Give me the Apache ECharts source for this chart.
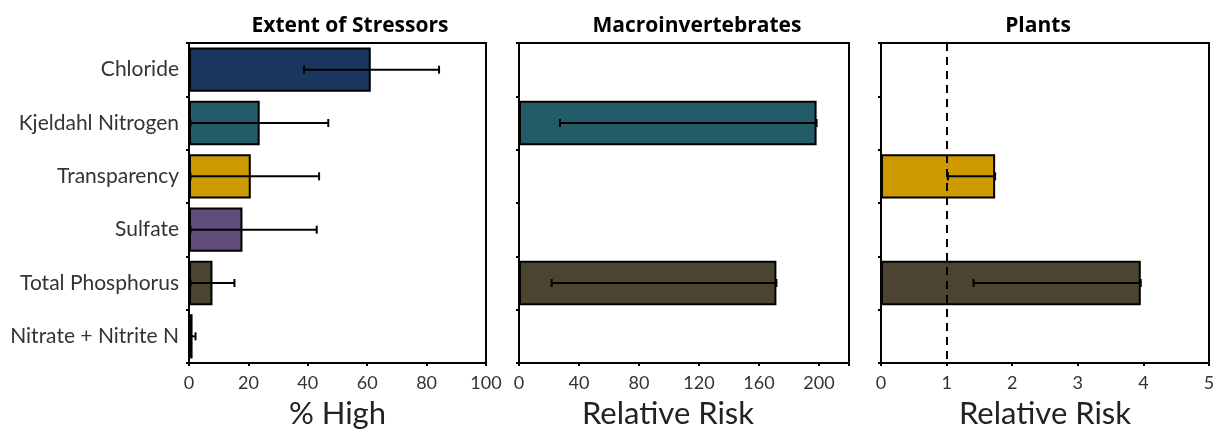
<!DOCTYPE html>
<html>
<head>
<meta charset="utf-8">
<script src="https://cdn.jsdelivr.net/npm/echarts@6/dist/echarts.min.js"></script>
<style>
  html, body { margin: 0; padding: 0; background: #fff; }
  #main { width: 1221px; height: 432px; }
</style>
</head>
<body>
<div id="main"></div>
<script>
// categories, top to bottom
const categories = ['Chloride', 'Kjeldahl Nitrogen', 'Transparency', 'Sulfate', 'Total Phosphorus', 'Nitrate + Nitrite N'];

// extent of stressors (% high) with error bar ends
const extentHigh = [61.2, 23.8, 20.8, 18.0, 7.9, 1.2];
const extentLo = [38.7, 0.5, 0.5, 0.5, 0.5, 0.4];
const extentHi = [84.2, 46.9, 43.8, 43.0, 15.3, 2.2];

// relative risk, macroinvertebrates (null = not shown)
const macroRR = [null, 198.4, null, null, 171.6, null];
const macroLo = [null, 27.3, null, null, 21.8, null];

// relative risk, plants
const plantRR = [null, null, 1.74, null, 3.96, null];
const plantLo = [null, null, 1.02, null, 1.41, null];

const plantRefLine = 1;

const panelTitles = ['Extent of Stressors', 'Macroinvertebrates', 'Plants'];
const axisNames = ['% High', 'Relative Risk', 'Relative Risk'];

// bar fills per category
const barColors = ['#1b365e', '#235b69', '#cc9900', '#604b7b', '#4a4430', '#ffffff'];

const FONT = 'Lato';

const myChart = echarts.init(document.getElementById('main'));

function barData(vals) {
  return vals.map((v, i) => v == null ? '-' : { value: v, itemStyle: { color: barColors[i] } });
}
function errData(lo, hi) {
  const out = [];
  lo.forEach((l, i) => {
    if (l != null && hi[i] != null) out.push([l, hi[i], i]);
  });
  return out;
}

// error bar: horizontal line with caps at both ends
function renderErr(params, api) {
  const a = api.coord([api.value(0), api.value(2)]);
  const b = api.coord([api.value(1), api.value(2)]);
  const h = 4;
  const st = { stroke: '#000', lineWidth: 2 };
  return {
    type: 'group',
    children: [
      { type: 'line', shape: { x1: a[0], y1: a[1], x2: b[0], y2: b[1] }, style: st },
      { type: 'line', shape: { x1: a[0], y1: a[1] - h, x2: a[0], y2: a[1] + h }, style: st },
      { type: 'line', shape: { x1: b[0], y1: b[1] - h, x2: b[0], y2: b[1] + h }, style: st }
    ]
  };
}

const grids = [
  { left: 189, right: 735, top: 43, bottom: 69 },
  { left: 519, right: 372, top: 43, bottom: 69 },
  { left: 881, right: 12, top: 43, bottom: 69 }
].map(g => Object.assign(g, {
  show: true, borderColor: '#000', borderWidth: 2,
  containLabel: false, outerBoundsMode: 'none'
}));

const xRanges = [
  { min: 0, max: 100, interval: 20 },
  { min: 0, max: 220, interval: 40 },
  { min: 0, max: 5, interval: 1 }
];

const option = {
  animation: false,
  textStyle: { fontFamily: FONT },
  title: panelTitles.map((t, i) => ({
    text: t,
    left: [345, 692, 1033][i],
    top: 11,
    textAlign: 'center',
    textStyle: { fontFamily: 'Open Sans', fontWeight: 'bold', fontSize: 21, color: '#000' }
  })),
  grid: grids,
  xAxis: xRanges.map((r, i) => ({
    type: 'value',
    gridIndex: i,
    min: r.min,
    max: r.max,
    interval: r.interval,
    splitLine: { show: false },
    axisLine: { show: true, lineStyle: { color: '#000', width: 2 } },
    axisTick: { show: true, length: 3, lineStyle: { color: '#000', width: 2 } },
    axisLabel: {
      fontFamily: FONT, fontSize: 18, color: '#333', margin: 11,
      formatter: v => (v % r.interval === 0 ? String(v) : '')
    },
    name: axisNames[i],
    nameLocation: 'middle',
    nameGap: 35,
    nameTextStyle: { fontFamily: FONT, fontSize: 31, color: '#222', padding: i === 1 ? [0, 32, 0, 0] : 0 }
  })),
  yAxis: [0, 1, 2].map(i => ({
    type: 'category',
    gridIndex: i,
    data: categories,
    inverse: true,
    axisLine: { show: true, lineStyle: { color: '#000', width: 2 } },
    axisTick: { show: true, length: 3, lineStyle: { color: '#000', width: 2 } },
    axisLabel: { show: i === 0, fontFamily: FONT, fontSize: 21, color: '#333', margin: 10 }
  })),
  series: [
    {
      type: 'bar', xAxisIndex: 0, yAxisIndex: 0, barCategoryGap: '17%',
      itemStyle: { borderColor: '#000', borderWidth: 2 },
      data: barData(extentHigh)
    },
    {
      type: 'custom', xAxisIndex: 0, yAxisIndex: 0, z: 5,
      renderItem: renderErr, encode: { x: [0, 1], y: 2 },
      data: errData(extentLo, extentHi)
    },
    {
      type: 'bar', xAxisIndex: 1, yAxisIndex: 1, barCategoryGap: '17%',
      itemStyle: { borderColor: '#000', borderWidth: 2 },
      data: barData(macroRR)
    },
    {
      type: 'custom', xAxisIndex: 1, yAxisIndex: 1, z: 5,
      renderItem: renderErr, encode: { x: [0, 1], y: 2 },
      data: errData(macroLo, macroRR)
    },
    {
      type: 'bar', xAxisIndex: 2, yAxisIndex: 2, barCategoryGap: '17%',
      itemStyle: { borderColor: '#000', borderWidth: 2 },
      data: barData(plantRR),
      markLine: {
        silent: true, symbol: 'none', z: 10,
        label: { show: false },
        lineStyle: { color: '#000', width: 2, type: [8, 6] },
        data: [{ xAxis: plantRefLine }]
      }
    },
    {
      type: 'custom', xAxisIndex: 2, yAxisIndex: 2, z: 5,
      renderItem: renderErr, encode: { x: [0, 1], y: 2 },
      data: errData(plantLo, plantRR)
    }
  ]
};

option && myChart.setOption(option);
</script>
</body>
</html>
